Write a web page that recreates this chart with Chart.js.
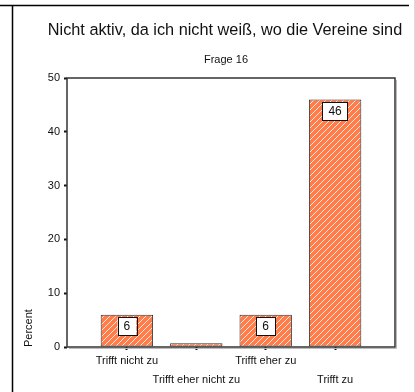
<!DOCTYPE html>
<html>
<head>
<meta charset="utf-8">
<script src="https://cdn.jsdelivr.net/npm/chart.js@4.4.0/dist/chart.umd.min.js"></script>
<style>
body { margin: 0; background: #fff; }
canvas { display: block; }
</style>
</head>
<body>
<canvas id="frageChart" width="415" height="392"></canvas>
<script>
var categories = ["Trifft nicht zu", "Trifft eher nicht zu", "Trifft eher zu", "Trifft zu"];
var percents = [6, 0.7, 6, 46];
var yTicks = [0, 10, 20, 30, 40, 50];
var chartTitle = "Nicht aktiv, da ich nicht weiß, wo die Vereine sind";
var chartSubtitle = "Frage 16";

var FONT = "'Liberation Sans', Arial, sans-serif";
var ctx = document.getElementById("frageChart").getContext("2d");

// orange fill with thin white diagonal hatching
function makeHatch() {
    var c = document.createElement("canvas");
    c.width = 6;
    c.height = 6;
    var p = c.getContext("2d");
    p.fillStyle = "#ff7d4a";
    p.fillRect(0, 0, 6, 6);
    p.strokeStyle = "rgba(255,255,255,0.8)";
    p.lineWidth = 1;
    p.beginPath();
    p.moveTo(0, 6); p.lineTo(6, 0);
    p.moveTo(-3, 3); p.lineTo(3, -3);
    p.moveTo(3, 9); p.lineTo(9, 3);
    p.stroke();
    return ctx.createPattern(c, "repeat");
}

var framePlugin = {
    id: "frame",
    beforeDraw: function (chart) {
        var c = chart.ctx;
        c.save();
        c.fillStyle = "#fff";
        c.fillRect(0, 0, chart.width, chart.height);
        // outer page frame
        c.strokeStyle = "#000";
        c.lineWidth = 1.5;
        c.beginPath();
        c.moveTo(0, 5.5); c.lineTo(409, 5.5);
        c.moveTo(12.5, 5); c.lineTo(12.5, chart.height);
        c.stroke();
        c.strokeStyle = "#ddd";
        c.lineWidth = 1;
        c.beginPath();
        c.moveTo(414.5, 0); c.lineTo(414.5, chart.height);
        c.stroke();
        // titles
        c.fillStyle = "#111";
        c.textAlign = "center";
        c.textBaseline = "middle";
        c.font = "16.3px " + FONT;
        c.fillText(chartTitle, 225, 31);
        c.font = "11px " + FONT;
        c.fillText(chartSubtitle, 226, 60);
        c.restore();
    },
    afterDatasetsDraw: function (chart) {
        var c = chart.ctx;
        var a = chart.chartArea;
        c.save();
        // plot frame with a faint shadow
        c.strokeStyle = "#bbb";
        c.lineWidth = 1;
        c.beginPath();
        c.moveTo(a.right + 1.5, a.top + 2); c.lineTo(a.right + 1.5, a.bottom + 1.5); c.lineTo(a.left + 2, a.bottom + 1.5);
        c.stroke();
        c.strokeStyle = "#333";
        c.lineWidth = 1.5;
        c.strokeRect(a.left, a.top, a.right - a.left, a.bottom - a.top);
        // value boxes at the top of each bar
        var meta = chart.getDatasetMeta(0);
        c.font = "12px " + FONT;
        c.textAlign = "center";
        c.textBaseline = "middle";
        meta.data.forEach(function (bar, i) {
            var v = percents[i];
            if (v < 3) return;
            var txt = String(Math.round(v));
            var w = c.measureText(txt).width + 12;
            var h = 18;
            var top = bar.y + 2.5;
            c.fillStyle = "#fff";
            c.fillRect(bar.x - w / 2, top, w, h);
            c.strokeStyle = "#111";
            c.lineWidth = 1;
            c.strokeRect(Math.round(bar.x - w / 2) + 0.5, Math.round(top) + 0.5, Math.round(w), h);
            c.fillStyle = "#111";
            c.fillText(txt, bar.x, top + h / 2 + 0.5);
        });
        c.restore();
    }
};

var chart = new Chart(ctx, {
    type: "bar",
    data: {
        datasets: [{
            data: percents.map(function (v, i) { return { x: i, y: v }; }),
            backgroundColor: makeHatch(),
            borderColor: "#333",
            borderWidth: 1,
            borderSkipped: false,
            categoryPercentage: 1,
            barPercentage: 0.755
        }]
    },
    options: {
        responsive: false,
        animation: false,
        layout: { padding: { left: 0, right: 20, top: 78, bottom: 0 } },
        plugins: {
            legend: { display: false },
            tooltip: { enabled: false }
        },
        scales: {
            x: {
                type: "linear",
                min: -0.863,
                max: 3.863,
                offset: false,
                border: { display: false },
                grid: { offset: false, drawOnChartArea: false, drawTicks: true, tickLength: 3, tickWidth: 2, tickColor: "#111" },
                afterBuildTicks: function (scale) {
                    scale.ticks = categories.map(function (_, i) { return { value: i }; });
                },
                afterFit: function (scale) { scale.height = 45; },
                ticks: {
                    autoSkip: false,
                    maxRotation: 0,
                    padding: 2,
                    color: "#111",
                    font: { family: FONT, size: 11, lineHeight: 1.7 },
                    callback: function (value) {
                        var lbl = categories[value];
                        return value % 2 === 0 ? [lbl] : ["", lbl];
                    }
                }
            },
            y: {
                min: 0,
                max: 50,
                border: { display: false },
                grid: { drawOnChartArea: false, drawTicks: true, tickLength: 3, tickWidth: 2, tickColor: "#111" },
                afterBuildTicks: function (scale) {
                    scale.ticks = yTicks.map(function (v) { return { value: v }; });
                },
                afterFit: function (scale) { scale.width = 67; },
                ticks: {
                    padding: 4,
                    color: "#111",
                    font: { family: FONT, size: 11 }
                },
                title: {
                    display: true,
                    text: "Percent",
                    align: "start",
                    color: "#111",
                    font: { family: FONT, size: 11 },
                    padding: { top: 22, bottom: 0 }
                }
            }
        }
    },
    plugins: [framePlugin]
});
</script>
</body>
</html>
